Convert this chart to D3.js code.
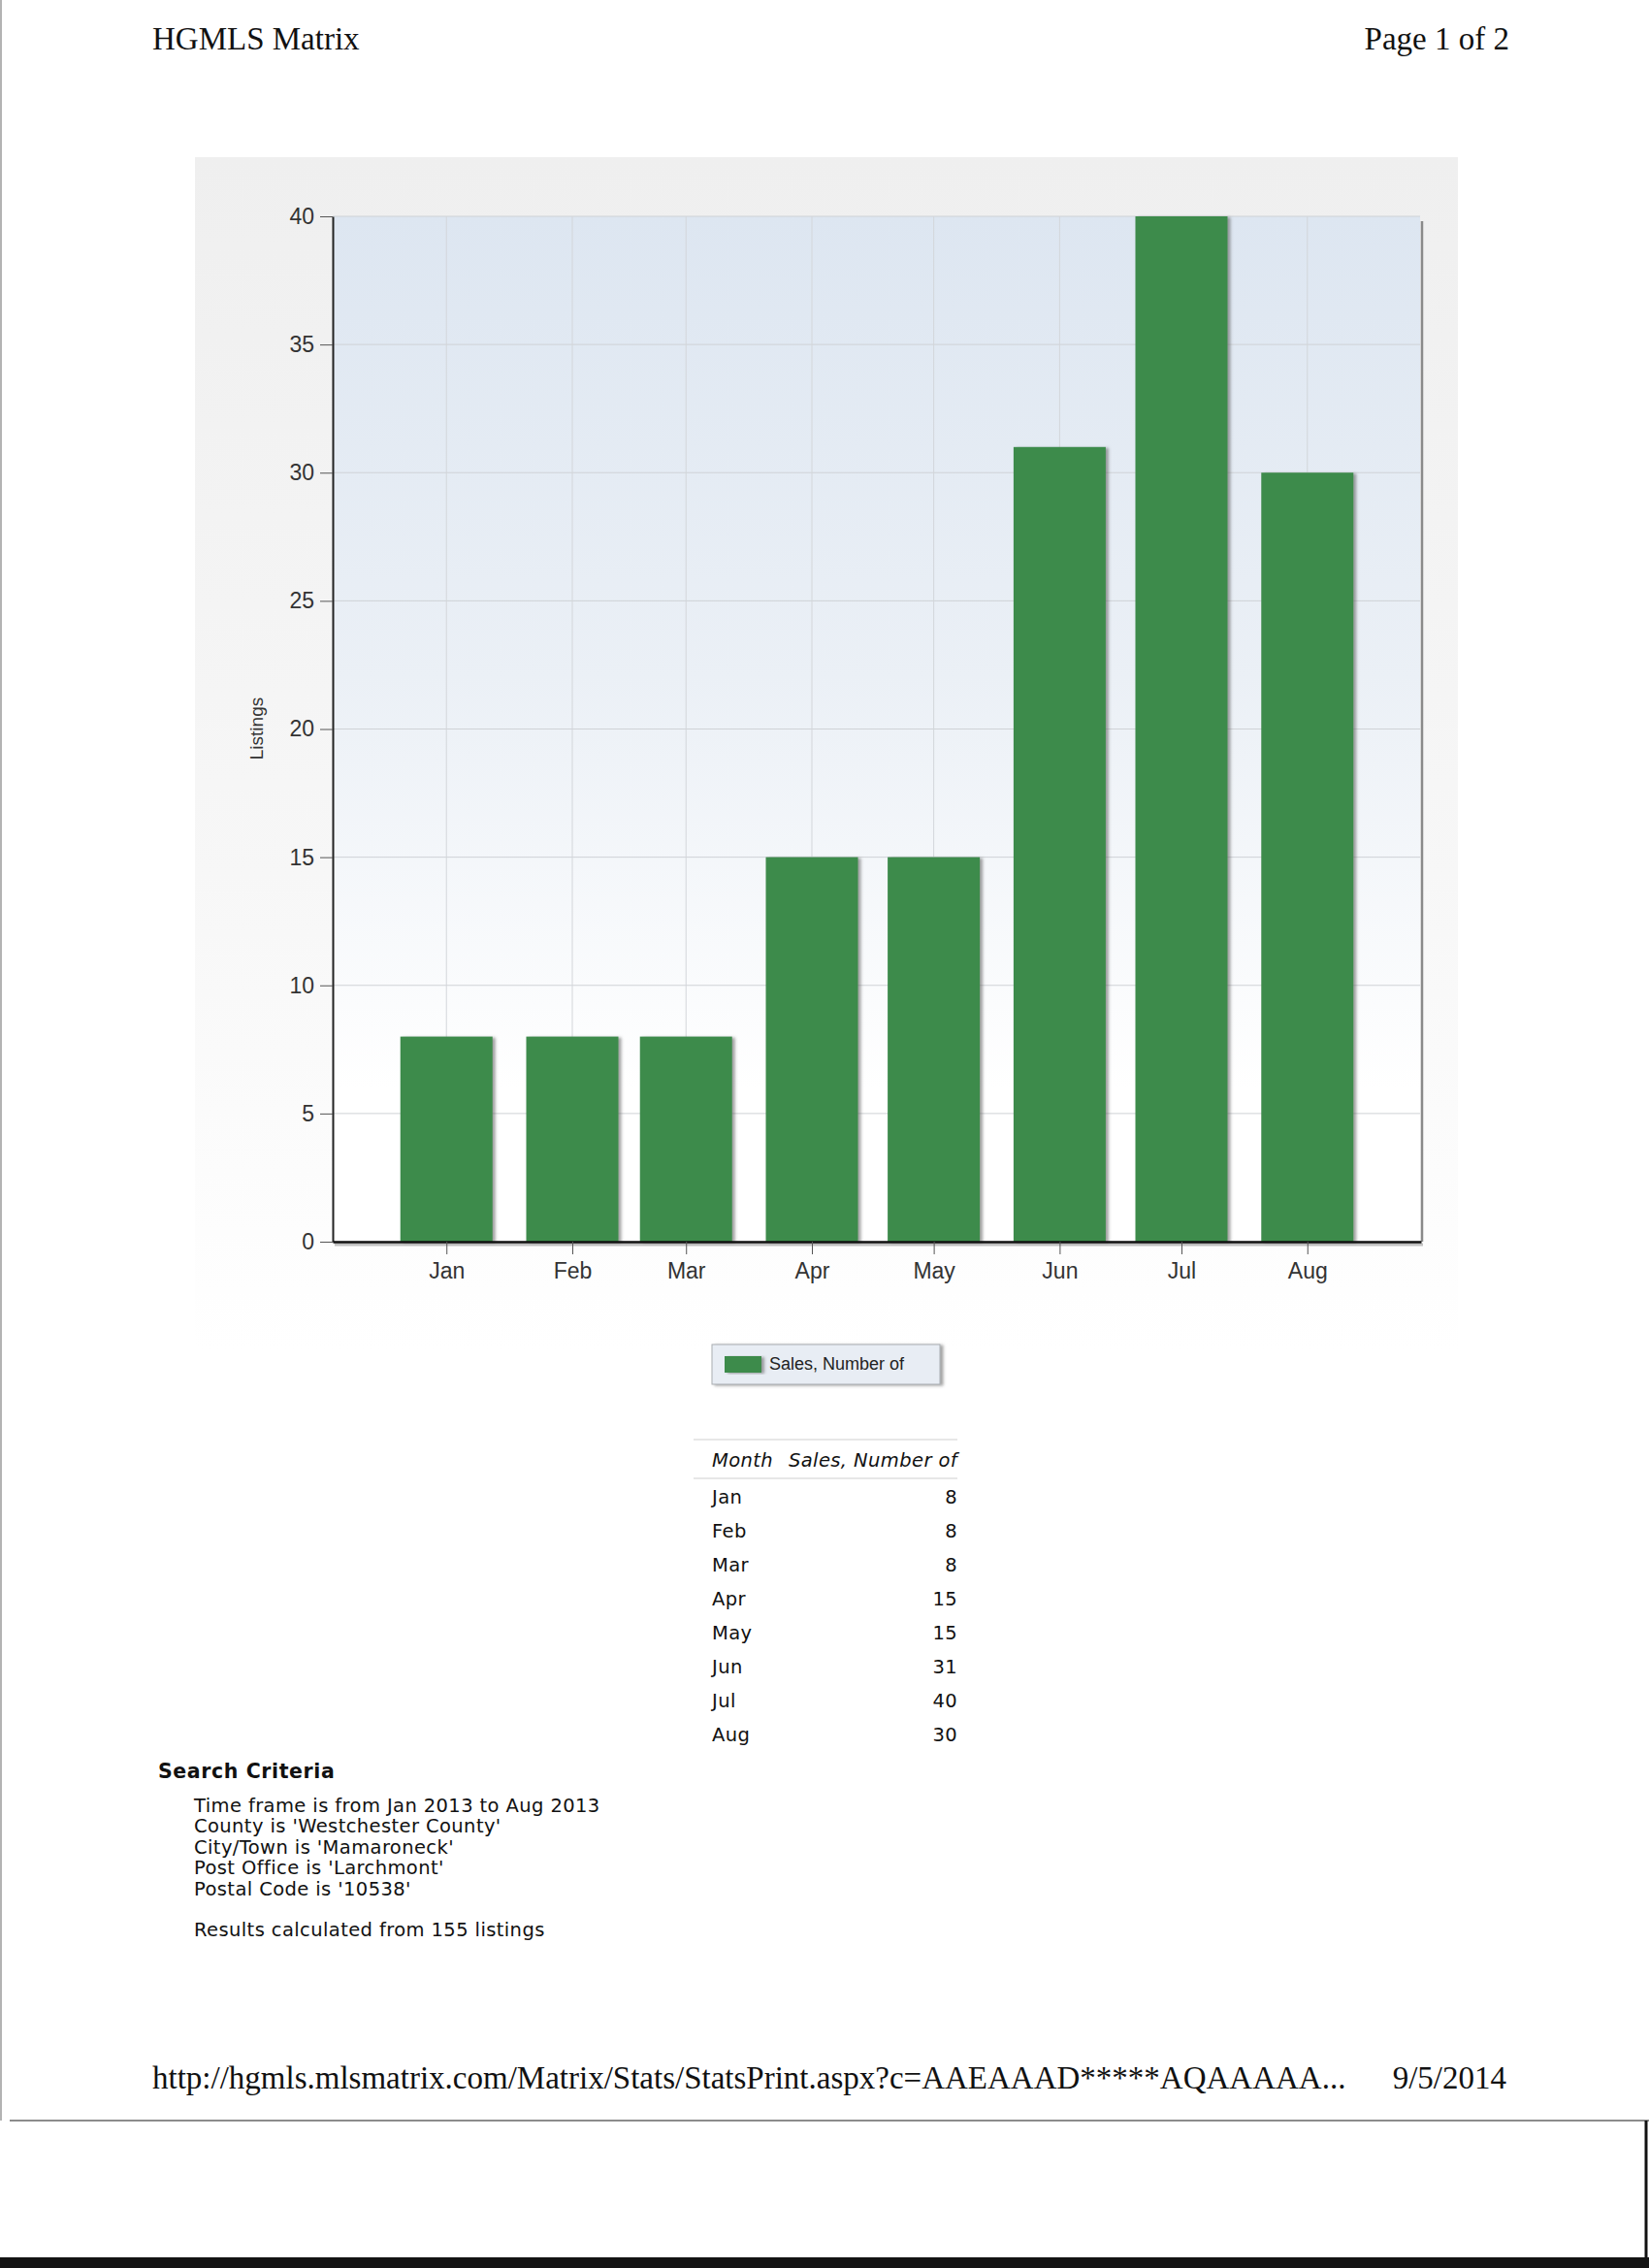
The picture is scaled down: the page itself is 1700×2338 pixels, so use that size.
<!DOCTYPE html>
<html>
<head>
<meta charset="utf-8">
<script src="https://cdn.jsdelivr.net/npm/d3@7"></script>
<style>
  body { margin: 0; background: #fff; }
  svg { display: block; }
  .serif { font-family: "Liberation Serif", "Times New Roman", serif; fill: #111; }
  .sans { font-family: "Liberation Sans", Arial, sans-serif; }
  .verdana { font-family: "DejaVu Sans", Verdana, sans-serif; fill: #111; letter-spacing: 0.4px; }
  .axis text { font-family: "Liberation Sans", Arial, sans-serif; font-size: 23px; fill: #333; }
</style>
</head>
<body>
<svg id="page" width="1700" height="2338"></svg>
<script>
// Chart data
const months = ['Jan', 'Feb', 'Mar', 'Apr', 'May', 'Jun', 'Jul', 'Aug'];
const monthStarts = ['2013-01-01', '2013-02-01', '2013-03-01', '2013-04-01', '2013-05-01', '2013-06-01', '2013-07-01', '2013-08-01'];
const sales = [8, 8, 8, 15, 15, 31, 40, 30];
const yTicks = [0, 5, 10, 15, 20, 25, 30, 35, 40];
const xDomain = ['2012-12-04', '2013-08-29'];
const yDomain = [0, 40];
const seriesName = 'Sales, Number of';
const yLabel = 'Listings';
const tableHeaders = ['Month', 'Sales, Number of'];

// Page texts
const headerLeft = 'HGMLS Matrix';
const headerRight = 'Page 1 of 2';
const footerUrl = 'http://hgmls.mlsmatrix.com/Matrix/Stats/StatsPrint.aspx?c=AAEAAAD*****AQAAAAA...';
const footerDate = '9/5/2014';
const criteriaTitle = 'Search Criteria';
const criteria = [
  "Time frame is from Jan 2013 to Aug 2013",
  "County is 'Westchester County'",
  "City/Town is 'Mamaroneck'",
  "Post Office is 'Larchmont'",
  "Postal Code is '10538'"
];
const resultsNote = 'Results calculated from 155 listings';

const parseDate = d3.utcParse('%Y-%m-%d');
const data = months.map((m, i) => ({ month: m, date: parseDate(monthStarts[i]), value: sales[i] }));

class SalesChart {

  /**
  * @param {D3 selection} _svg
  * @param {Object[]} _data
  */
  constructor(_svg, _data) {
    this.svg = _svg;
    this.data = _data;
    this.plot = { left: 343, top: 223, right: 1464, bottom: 1280 };
    this.defs = this.svg.append('defs');
    this.populate();
  }

  populate() {
    const p = this.plot;
    const svg = this.svg;

    // Gradients + shadows
    const panelGrad = this.defs.append('linearGradient').attr('id', 'panelGrad')
      .attr('x1', 0).attr('y1', 0).attr('x2', 0).attr('y2', 1);
    panelGrad.append('stop').attr('offset', '0%').attr('stop-color', '#efefef');
    panelGrad.append('stop').attr('offset', '60%').attr('stop-color', '#f7f7f7');
    panelGrad.append('stop').attr('offset', '100%').attr('stop-color', '#ffffff');

    const plotGrad = this.defs.append('linearGradient').attr('id', 'plotGrad')
      .attr('x1', 0).attr('y1', 0).attr('x2', 0).attr('y2', 1);
    plotGrad.append('stop').attr('offset', '0%').attr('stop-color', '#dde6f1');
    plotGrad.append('stop').attr('offset', '45%').attr('stop-color', '#ebf0f6');
    plotGrad.append('stop').attr('offset', '85%').attr('stop-color', '#ffffff');

    const shadow = this.defs.append('filter').attr('id', 'shadow')
      .attr('x', '-10%').attr('y', '-5%').attr('width', '130%').attr('height', '115%');
    shadow.append('feDropShadow').attr('dx', 3).attr('dy', 1).attr('stdDeviation', 1.5)
      .attr('flood-color', '#555').attr('flood-opacity', 0.55);

    // Outer panel and plot area
    svg.append('rect')
      .attr('x', 201).attr('y', 162).attr('width', 1302).attr('height', 1230)
      .attr('fill', 'url(#panelGrad)');

    svg.append('rect')
      .attr('x', p.left).attr('y', p.top)
      .attr('width', p.right - p.left).attr('height', p.bottom - p.top)
      .attr('fill', 'url(#plotGrad)');

    // Shadow line on the right edge of the plot
    svg.append('line')
      .attr('x1', p.right + 2).attr('x2', p.right + 2)
      .attr('y1', p.top + 5).attr('y2', p.bottom)
      .attr('stroke', '#8a8a8a').attr('stroke-width', 2.5);

    // Scales
    const xScale = d3.scaleUtc()
      .domain(xDomain.map(parseDate))
      .range([p.left, p.right + 1]);

    const yScale = d3.scaleLinear()
      .domain(yDomain)
      .range([p.bottom, p.top]);

    // Grid
    svg.append('g').selectAll('line.hgrid').data(yTicks).join('line')
      .attr('class', 'hgrid')
      .attr('x1', p.left).attr('x2', p.right)
      .attr('y1', d => yScale(d)).attr('y2', d => yScale(d))
      .attr('stroke', '#cfd2d6').attr('stroke-width', 1);

    svg.append('g').selectAll('line.vgrid').data(this.data).join('line')
      .attr('class', 'vgrid')
      .attr('x1', d => xScale(d.date)).attr('x2', d => xScale(d.date))
      .attr('y1', p.top).attr('y2', p.bottom)
      .attr('stroke', '#d3d6da').attr('stroke-width', 1);

    // Bars
    const barWidth = 95;
    svg.append('g').selectAll('rect.bar').data(this.data).join('rect')
      .attr('class', 'bar')
      .attr('x', d => xScale(d.date) - barWidth / 2)
      .attr('y', d => yScale(d.value))
      .attr('width', barWidth)
      .attr('height', d => yScale(0) - yScale(d.value))
      .attr('fill', '#3d8b4b')
      .attr('filter', 'url(#shadow)');

    // Axes
    const yAxis = d3.axisLeft(yScale)
      .tickValues(yTicks)
      .tickSize(13)
      .tickSizeOuter(0)
      .tickPadding(6);

    const yAxisG = svg.append('g')
      .attr('class', 'axis y-axis')
      .attr('transform', `translate(${p.left},0)`)
      .call(yAxis);
    yAxisG.select('.domain').attr('stroke', '#222').attr('stroke-width', 2);
    yAxisG.selectAll('.tick line').attr('stroke', '#555');

    const xAxis = d3.axisBottom(xScale)
      .tickValues(this.data.map(d => d.date))
      .tickFormat((d, i) => months[i])
      .tickSize(13)
      .tickSizeOuter(0)
      .tickPadding(9);

    // shadow under the x axis
    svg.append('line')
      .attr('x1', p.left + 2).attr('x2', p.right + 3)
      .attr('y1', p.bottom + 3).attr('y2', p.bottom + 3)
      .attr('stroke', '#9a9a9a').attr('stroke-width', 3).attr('opacity', 0.6);

    const xAxisG = svg.append('g')
      .attr('class', 'axis x-axis')
      .attr('transform', `translate(0,${p.bottom})`)
      .call(xAxis);
    xAxisG.select('.domain').attr('stroke', '#111').attr('stroke-width', 2.5);
    xAxisG.selectAll('.tick line').attr('stroke', '#555');

    // Y label
    svg.append('text')
      .attr('class', 'sans')
      .attr('transform', 'translate(271,751) rotate(-90)')
      .attr('text-anchor', 'middle')
      .attr('font-size', 19)
      .attr('fill', '#333')
      .text(yLabel);

    // Legend
    const legend = svg.append('g').attr('transform', 'translate(734,1386)');
    legend.append('rect')
      .attr('width', 235).attr('height', 41)
      .attr('fill', '#e8edf4').attr('stroke', '#a9adb2').attr('stroke-width', 1)
      .attr('filter', 'url(#shadow)');
    legend.append('rect')
      .attr('x', 13).attr('y', 12).attr('width', 38).attr('height', 17)
      .attr('fill', '#3d8b4b').attr('filter', 'url(#shadow)');
    legend.append('text')
      .attr('class', 'sans')
      .attr('x', 59).attr('y', 26)
      .attr('font-size', 18)
      .attr('fill', '#222')
      .text(seriesName);
  }
}

const svg = d3.select('#page');

// Page header
svg.append('text').attr('class', 'serif')
  .attr('x', 157).attr('y', 51).attr('font-size', 33).text(headerLeft);
svg.append('text').attr('class', 'serif')
  .attr('x', 1556).attr('y', 51).attr('font-size', 33).attr('text-anchor', 'end').text(headerRight);

new SalesChart(svg, data);

// Data table
const table = svg.append('g').attr('class', 'verdana');
table.append('line').attr('x1', 715).attr('x2', 987).attr('y1', 1484).attr('y2', 1484)
  .attr('stroke', '#cfcfcf');
table.append('line').attr('x1', 715).attr('x2', 987).attr('y1', 1524).attr('y2', 1524)
  .attr('stroke', '#cfcfcf');
table.append('text').attr('x', 734).attr('y', 1512).attr('font-size', 19.5)
  .attr('font-style', 'italic').text(tableHeaders[0]);
table.append('text').attr('x', 987).attr('y', 1512).attr('font-size', 19.5)
  .attr('font-style', 'italic').attr('text-anchor', 'end').text(tableHeaders[1]);

const rowY = d3.scaleLinear().domain([0, 1]).range([1550, 1585]);
table.selectAll('text.row-month').data(data).join('text')
  .attr('class', 'row-month')
  .attr('x', 734).attr('y', (d, i) => rowY(i))
  .attr('font-size', 19.5)
  .text(d => d.month);
table.selectAll('text.row-value').data(data).join('text')
  .attr('class', 'row-value')
  .attr('x', 987).attr('y', (d, i) => rowY(i))
  .attr('font-size', 19.5).attr('text-anchor', 'end')
  .text(d => d.value);

// Search criteria
const crit = svg.append('g').attr('class', 'verdana');
crit.append('text').attr('x', 163).attr('y', 1833)
  .attr('font-size', 20.5).attr('font-weight', 'bold').attr('letter-spacing', 0.6).text(criteriaTitle);
crit.selectAll('text.crit').data(criteria).join('text')
  .attr('class', 'crit')
  .attr('x', 200).attr('y', (d, i) => 1868 + i * 21.4)
  .attr('font-size', 19.5)
  .text(d => d);
crit.append('text').attr('x', 200).attr('y', 1996)
  .attr('font-size', 19.5).text(resultsNote);

// Footer
svg.append('text').attr('class', 'serif')
  .attr('x', 157).attr('y', 2153).attr('font-size', 33).text(footerUrl);
svg.append('text').attr('class', 'serif')
  .attr('x', 1553).attr('y', 2153).attr('font-size', 33).attr('text-anchor', 'end').text(footerDate);

// Scan edges
svg.append('line').attr('x1', 1).attr('x2', 1).attr('y1', 0).attr('y2', 2186)
  .attr('stroke', '#9a9a9a').attr('stroke-width', 1.5);
svg.append('line').attr('x1', 10).attr('x2', 1700).attr('y1', 2186).attr('y2', 2186)
  .attr('stroke', '#8c8c8c').attr('stroke-width', 2);
svg.append('line').attr('x1', 1697).attr('x2', 1697).attr('y1', 2186).attr('y2', 2327)
  .attr('stroke', '#111').attr('stroke-width', 3);
svg.append('rect').attr('x', 0).attr('y', 2327).attr('width', 1700).attr('height', 11)
  .attr('fill', '#141414');
</script>
</body>
</html>
